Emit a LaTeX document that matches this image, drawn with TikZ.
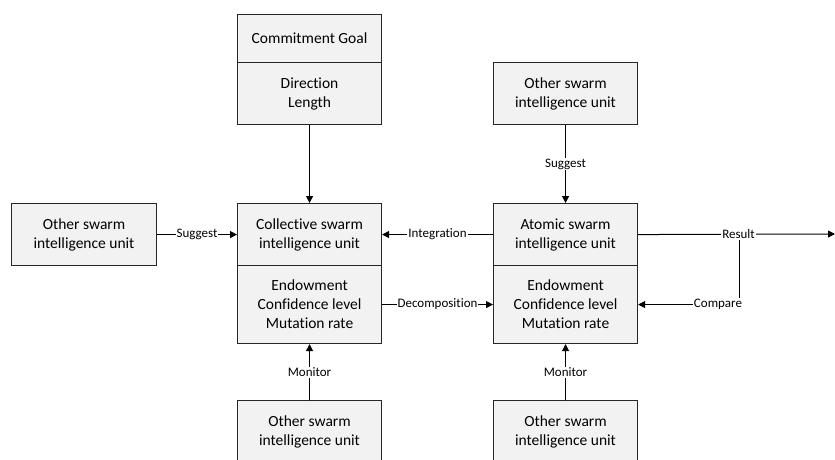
\documentclass[tikz,border=0pt]{standalone}
\usepackage{fontspec}
\setmainfont[Ligatures=NoCommon]{Carlito}
\usetikzlibrary{arrows.meta}
\begin{document}
\begin{tikzpicture}[x=1pt,y=-1pt,
 box/.style={draw=black!85, line width=1.1pt, fill=black!5, minimum width=144pt, align=center,
   font=\fontsize{15.5}{19}\selectfont, inner sep=0pt, anchor=north west},
 lbl/.style={fill=white, inner sep=1pt, font=\fontsize{13}{15}\selectfont},
 arr/.style={-{Triangle[length=7pt,width=7pt]}, line width=1pt}]
\useasboundingbox (0,0) rectangle (835,459);
% top box
\node[box, minimum height=48pt] (cg) at (237,14) {Commitment Goal};
\node[box, minimum height=62pt] (dl) at (237,62) {Direction\\Length};
% left box
\node[box, minimum height=62pt, minimum width=145pt] (oL) at (11,203) {Other swarm\\intelligence unit};
% collective
\node[box, minimum height=62pt] (coll) at (237,203) {Collective swarm\\intelligence unit};
\node[box, minimum height=78pt] (collB) at (237,265) {Endowment\\Confidence level\\Mutation rate};
% atomic
\node[box, minimum height=62pt] (oT) at (493,62) {Other swarm\\intelligence unit};
\node[box, minimum height=62pt] (atom) at (493,203) {Atomic swarm\\intelligence unit};
\node[box, minimum height=78pt] (atomB) at (493,265) {Endowment\\Confidence level\\Mutation rate};
% bottom boxes
\node[box, minimum height=62pt] (oB1) at (237,400) {Other swarm\\intelligence unit};
\node[box, minimum height=62pt] (oB2) at (493,400) {Other swarm\\intelligence unit};
% connectors
\draw[arr] (dl.south) -- (coll.north);
\draw[arr] (oL.east) -- node[lbl] {Suggest} (coll.west);
\draw[arr] (atom.west) -- node[lbl] {Integration} (coll.east);
\draw[arr] (collB.east) -- node[lbl] {Decomposition} (atomB.west);
\draw[arr] (oT.south) -- node[lbl] {Suggest} (atom.north);
\draw[arr] (oB1.north) -- node[lbl] {Monitor} (collB.south);
\draw[arr] (oB2.north) -- node[lbl] {Monitor} (atomB.south);
\coordinate (rend) at (835,234);
\coordinate (cmp) at (739,234);
\draw[arr] (cmp) |- (atomB.east);
\draw[arr] (atom.east) -- node[lbl, pos=0.51] {Result} (rend);
\node[lbl] (cmpl) at (718,304) {Compare};
\end{tikzpicture}
\end{document}
